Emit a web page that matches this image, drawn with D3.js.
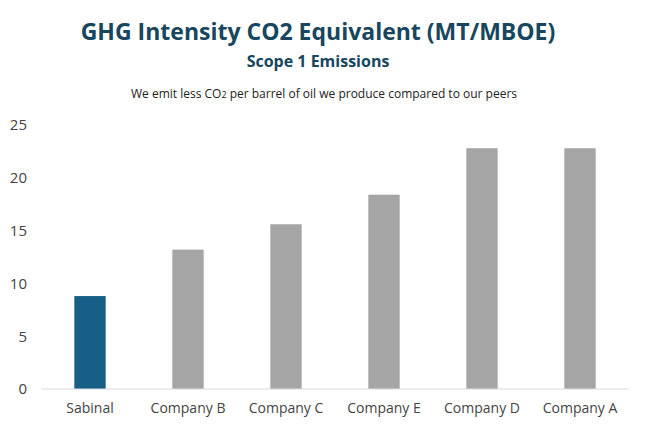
<!DOCTYPE html>
<html>
<head>
<meta charset="utf-8">
<script src="https://cdn.jsdelivr.net/npm/d3@7"></script>
<style>
  body { margin: 0; background: #fff; font-family: "Open Sans", "Noto Sans", sans-serif; }
</style>
</head>
<body>
<svg id="chart" width="652" height="433"></svg>
<script>
const categories = ['Sabinal', 'Company B', 'Company C', 'Company E', 'Company D', 'Company A'];
const values = [8.8, 13.2, 15.6, 18.4, 22.8, 22.8];
const yTicks = [0, 5, 10, 15, 20, 25];

const margin = { top: 125, right: 23, bottom: 44, left: 41 };
const width = 652 - margin.left - margin.right;
const height = 433 - margin.top - margin.bottom;

const svg = d3.select('#chart');

svg.append('text')
   .attr('x', 318).attr('y', 40)
   .attr('text-anchor', 'middle')
   .attr('fill', '#17465e')
   .attr('font-size', 23)
   .attr('font-weight', 'bold')
   .text('GHG Intensity CO2 Equivalent (MT/MBOE)');

svg.append('text')
   .attr('x', 318).attr('y', 67)
   .attr('text-anchor', 'middle')
   .attr('fill', '#17465e')
   .attr('font-size', 16)
   .attr('font-weight', 'bold')
   .text('Scope 1 Emissions');

const sub = svg.append('text')
   .attr('x', 324).attr('y', 98)
   .attr('text-anchor', 'middle')
   .attr('fill', '#222')
   .attr('font-size', 12);
sub.append('tspan').text('We emit less CO');
sub.append('tspan').attr('font-size', 9).text('2');
sub.append('tspan').text(' per barrel of oil we produce compared to our peers');

const chart = svg.append('g').attr('transform', `translate(${margin.left},${margin.top})`);

const x = d3.scaleBand().domain(categories).range([0, width]).paddingInner(0.68).paddingOuter(0.34);
const y = d3.scaleLinear().domain([0, 25]).range([height, 0]);

chart.selectAll('.bar')
   .data(categories)
   .join('rect')
   .attr('class', 'bar')
   .attr('x', d => x(d))
   .attr('y', (d, i) => y(values[i]))
   .attr('width', x.bandwidth())
   .attr('height', (d, i) => height - y(values[i]))
   .attr('fill', (d, i) => i === 0 ? '#175f86' : '#a5a5a5');

chart.append('line')
   .attr('x1', 0).attr('x2', width)
   .attr('y1', height).attr('y2', height)
   .attr('stroke', '#d9d9d9');

const yAxis = chart.append('g')
   .call(d3.axisLeft(y).tickValues(yTicks).tickSize(0).tickPadding(14));
yAxis.select('.domain').remove();
yAxis.selectAll('text').attr('font-size', 15).attr('fill', '#444').attr('font-family', 'Open Sans, sans-serif');

const xAxis = chart.append('g')
   .attr('transform', `translate(0,${height})`)
   .call(d3.axisBottom(x).tickSize(0).tickPadding(14));
xAxis.select('.domain').remove();
xAxis.selectAll('text').attr('font-size', 14).attr('fill', '#444').attr('font-family', 'Open Sans, sans-serif');
</script>
</body>
</html>
